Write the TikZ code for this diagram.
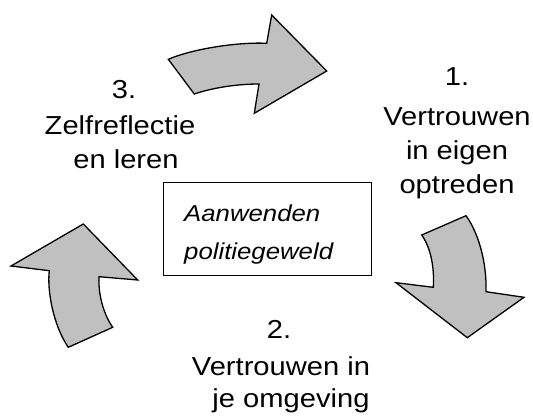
\documentclass[tikz,border=0pt]{standalone}
\usepackage{graphicx}
\usepackage{fontspec}
\setmainfont{Liberation Sans}
\definecolor{arrowgray}{RGB}{192,192,192}
\newcommand\sxt[1]{\scalebox{1.12}[1]{#1}}
\tikzset{
  bigarrow/.style={draw=black, line width=1.3pt, fill=arrowgray, line join=miter},
  lbl/.style={anchor=base, inner sep=0pt, font=\fontsize{26}{30}\selectfont},
  boxlbl/.style={anchor=base west, inner sep=0pt, font=\fontsize{23}{27}\selectfont\itshape},
  centralbox/.style={draw=black, line width=1pt, minimum width=208.4pt, minimum height=92.3pt, inner sep=0pt}
}
\begin{document}
\begin{tikzpicture}[x=1pt,y=-1pt]
\useasboundingbox (0,0) rectangle (533,417);
% top arrow
\draw[bigarrow] (168.3,59.3) -- (194.3,94) .. controls (212,88) and (236,84) .. (259,84)
  -- (254.3,113.3) -- (326.7,71) -- (271.7,15) -- (266.7,43.3)
  .. controls (240,42) and (195,48) .. cycle;
% right arrow
\draw[bigarrow] (421.7,235) -- (466,215.7) .. controls (478,232) and (487,262) .. (486,291.7)
  -- (524,297.3) -- (467.3,337.7) -- (396,282.7) -- (433.3,287.3)
  .. controls (434.5,268) and (431,248) .. cycle;
% left arrow
\draw[bigarrow] (68.3,347.3) -- (112.7,327.3) .. controls (104,315) and (98,295) .. (99,276.7)
  -- (137.7,280) -- (83.3,224) -- (11,266) -- (49.3,270.7)
  .. controls (47,290) and (53,325) .. cycle;
% central box
\node[centralbox] (box) at (267.5,228.85) {};
\node[boxlbl] (b1) at (184,222) {\sxt{Aanwenden}};
\node[boxlbl] (b2) at (184,259) {\sxt{politiegeweld}};
% block 1
\node[lbl] (a1) at (457,85.5) {\sxt{1.}};
\node[lbl] (a2) at (457,126) {\sxt{Vertrouwen}};
\node[lbl] (a3) at (457,160) {\sxt{in eigen}};
\node[lbl] (a4) at (457,193.3) {\sxt{optreden}};
% block 2
\node[lbl] (c1) at (279,338) {\sxt{2.}};
\node[lbl] (c2) at (281,375) {\sxt{Vertrouwen in}};
\node[lbl] (c3) at (291,407.3) {\sxt{je omgeving}};
% block 3
\node[lbl] (d1) at (124,98.3) {\sxt{3.}};
\node[lbl] (d2) at (120,135) {\sxt{Zelfreflectie}};
\node[lbl] (d3) at (126,168.3) {\sxt{en leren}};
\end{tikzpicture}
\end{document}
